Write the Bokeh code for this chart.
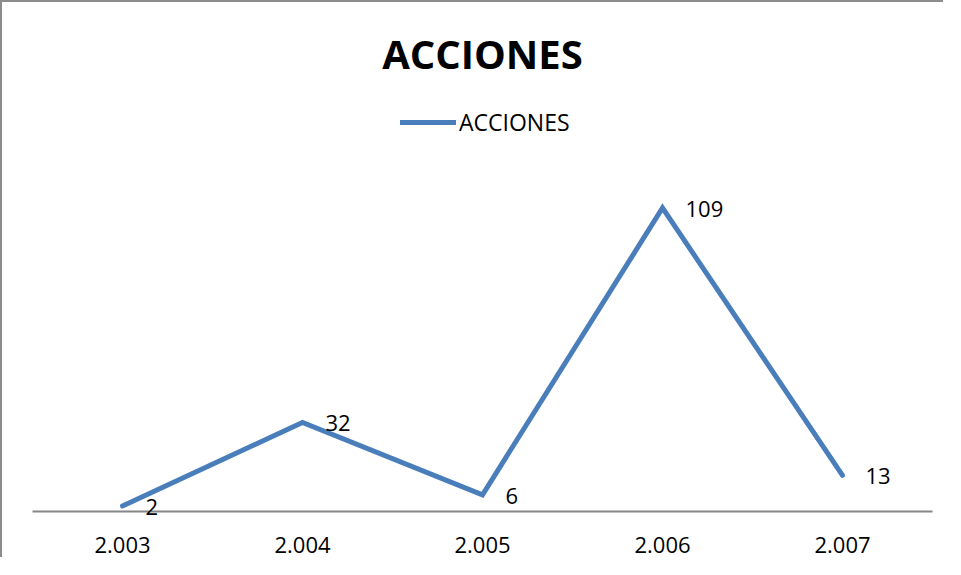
from bokeh.plotting import figure
from bokeh.models import Label, Legend, LegendItem, ColumnDataSource, Range1d
from bokeh.core.properties import value
from bokeh.embed import file_html
from bokeh.resources import INLINE

years = ["2.003", "2.004", "2.005", "2.006", "2.007"]
acciones = [2, 32, 6, 109, 13]
labels = [str(v) for v in acciones]
series_name = "ACCIONES"
title_text = "ACCIONES"

FONT = "Open Sans"
BLUE = "#4A7EBB"
GRAY = "#868686"

src = ColumnDataSource(dict(x=years, y=acciones, t=labels))

# frame: 900 px wide, 509 px tall; ~2.785 px per value unit
y_end = 509 / 2.785

p = figure(width=943, height=557, x_range=years, y_range=Range1d(0, y_end),
           output_backend="svg", toolbar_location=None, y_axis_location=None,
           min_border_left=30, min_border_right=13, min_border_top=0,
           min_border_bottom=48)
p.styles = {"border-left": "2px solid #8c8c8c", "border-top": "2px solid #8c8c8c"}
p.outline_line_color = None
p.xgrid.grid_line_color = None
p.ygrid.grid_line_color = None
p.background_fill_color = "white"
p.border_fill_color = "white"

r = p.line("x", "y", source=src, line_width=5, line_color=BLUE,
           line_join="miter", line_cap="round")

p.text("x", "y", text="t", source=src, x_offset=23, y_offset=1,
       text_align="left", text_baseline="middle",
       text_font=value(FONT), text_font_size="22px", text_color="black",
       level="overlay")

ax = p.xaxis[0]
ax.axis_line_color = GRAY
ax.axis_line_width = 2
ax.major_tick_line_color = None
ax.minor_tick_line_color = None
ax.major_tick_out = 0
ax.major_tick_in = 0
ax.major_label_standoff = 25
ax.major_label_text_font = FONT
ax.major_label_text_font_size = "22px"
ax.major_label_text_color = "black"

legend = Legend(items=[LegendItem(label=series_name, renderers=[r])],
                location=(368, 373), orientation="horizontal",
                glyph_width=56, glyph_height=20, label_standoff=3,
                padding=0, margin=0, spacing=0,
                label_text_font=FONT, label_text_font_size="23px",
                label_text_color="black",
                border_line_color=None, background_fill_alpha=0)
p.add_layout(legend)

title = Label(x=450, y=458, x_units="screen", y_units="screen",
              text=title_text, text_align="center", text_baseline="middle",
              text_font=FONT, text_font_size="40px", text_font_style="bold",
              text_color="black")
p.add_layout(title)

open("out.html", "w").write(file_html(p, INLINE))
